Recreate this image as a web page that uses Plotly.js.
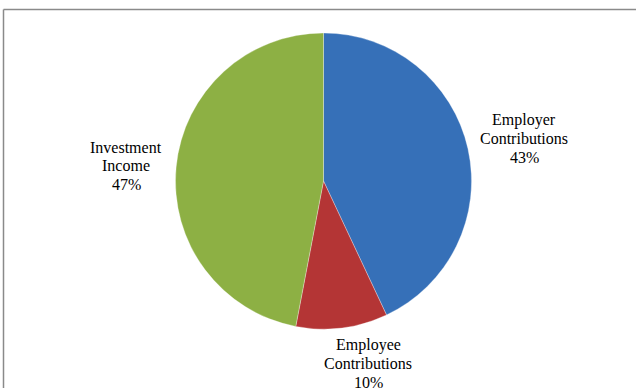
<!DOCTYPE html>
<html>
<head>
<meta charset="utf-8">
<script src="https://cdn.plot.ly/plotly-3.0.1.min.js"></script>
<style>html,body{margin:0;padding:0;background:#fff;}#chart{width:636px;height:388px;}</style>
</head>
<body>
<div id="chart"></div>
<script>
const categories = ["Employer Contributions", "Employee Contributions", "Investment Income"];
const labelLines = [["Employer", "Contributions"], ["Employee", "Contributions"], ["Investment", "Income"]];
const values = [43, 10, 47];
const colors = ["#3670b8", "#b43535", "#8db044"];
const labelX = [524, 368, 126];
const labelTop = [120, 345, 147];
const lineGap = 18.5;

const W = 636, H = 388;
const cx = 323.5, cy = 181, r = 148;
const total = values.reduce((a, b) => a + b, 0);

const trace = {
  type: "pie",
  labels: categories,
  values: values,
  sort: false,
  direction: "clockwise",
  rotation: 0,
  textinfo: "none",
  hoverinfo: "none",
  marker: {colors: colors, line: {color: "rgba(255,255,255,0.6)", width: 0.5}},
  domain: {x: [(cx - r) / W, (cx + r) / W], y: [(H - cy - r) / H, (H - cy + r) / H]},
  showlegend: false
};

const annotations = [];
categories.forEach((c, i) => {
  const lines = labelLines[i].concat([Math.round(values[i] / total * 100) + "%"]);
  lines.forEach((t, k) => {
    annotations.push({
      xref: "paper", yref: "paper",
      x: labelX[i] / W, y: 1 - (labelTop[i] + k * lineGap) / H,
      xanchor: "center", yanchor: "middle",
      showarrow: false,
      text: t,
      font: {family: "Liberation Serif", size: 16, color: "#000"}
    });
  });
});

const layout = {
  width: W, height: H,
  font: {family: "Liberation Serif", size: 16, color: "#000"},
  margin: {l: 0, r: 0, t: 0, b: 0},
  paper_bgcolor: "#fff",
  annotations: annotations,
  shapes: [
    {type: "line", xref: "paper", yref: "paper", x0: 3.5 / W, x1: 1, y0: 1 - 9.5 / H, y1: 1 - 9.5 / H, line: {color: "#8a8a8a", width: 1.5}},
    {type: "line", xref: "paper", yref: "paper", x0: 3.5 / W, x1: 3.5 / W, y0: 0, y1: 1 - 9.5 / H, line: {color: "#8a8a8a", width: 1.5}}
  ]
};

Plotly.newPlot("chart", [trace], layout, {staticPlot: true, displayModeBar: false});
</script>
</body>
</html>
